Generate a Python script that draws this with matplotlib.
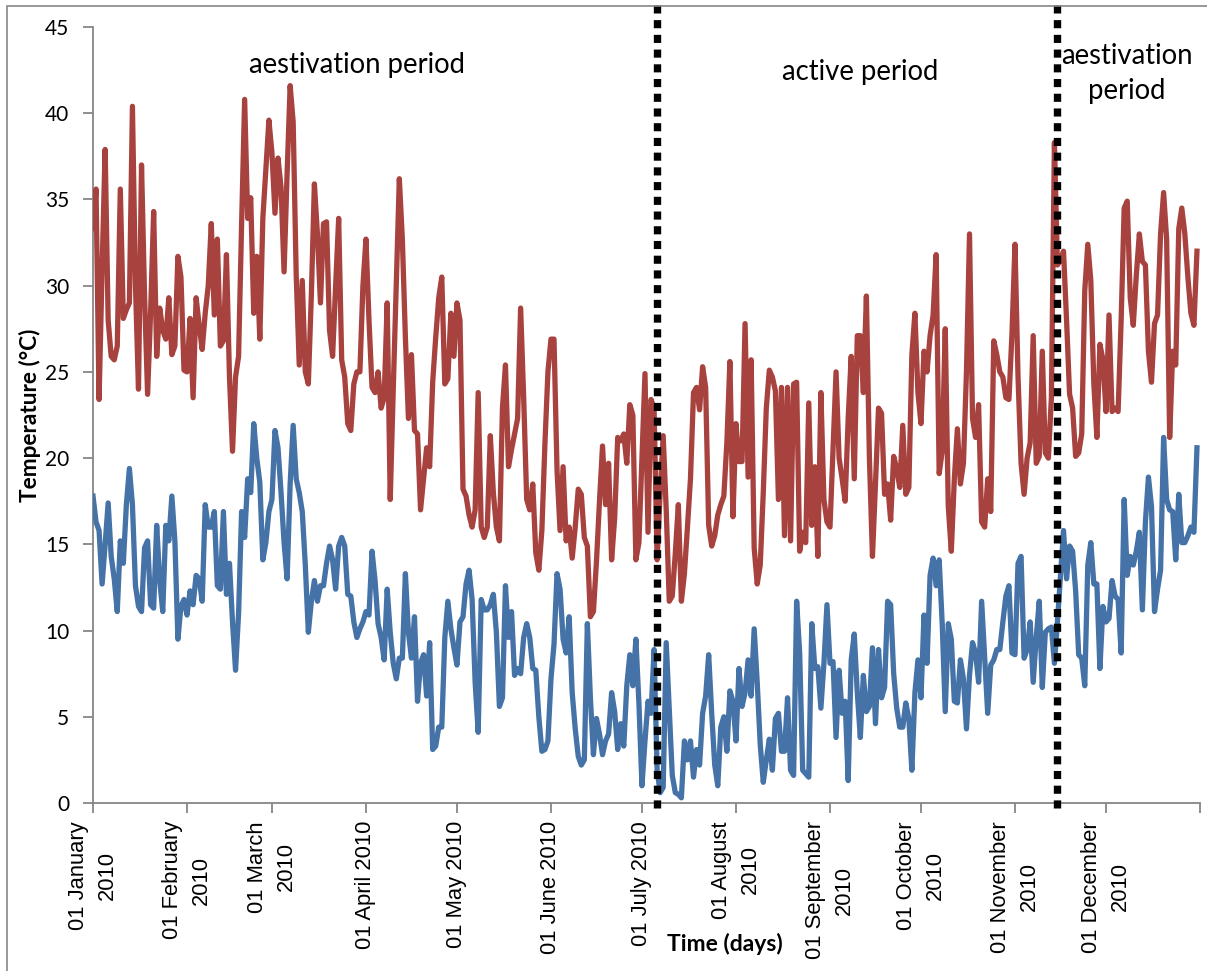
import numpy as np
import pandas as pd
import matplotlib
matplotlib.use("Agg")
import matplotlib.pyplot as plt
from matplotlib.patches import Rectangle

# daily soil temperature, 2010
red_temp = [
    33.3, 35.6, 23.4, 31.0, 37.9, 28.0, 25.9, 25.7, 26.5, 35.6,
    28.1, 28.6, 29.0, 40.4, 30.0, 24.0, 37.0, 29.4, 23.7, 28.5,
    34.3, 25.9, 28.7, 27.4, 26.9, 29.3, 26.0, 26.5, 31.7, 30.5,
    25.1, 25.0, 28.1, 23.5, 29.3, 27.7, 26.3, 28.4, 30.0, 33.6,
    28.3, 32.7, 26.5, 26.8, 31.8, 24.7, 20.4, 24.7, 25.9, 33.6,
    40.8, 33.9, 35.1, 28.4, 31.7, 26.9, 33.9, 36.8, 39.6, 37.7,
    34.2, 37.4, 35.7, 30.8, 36.5, 41.6, 39.5, 30.6, 25.4, 30.3,
    25.0, 24.3, 29.5, 35.9, 33.0, 29.0, 33.6, 33.7, 27.4, 25.9,
    30.0, 33.9, 25.7, 24.7, 22.0, 21.6, 24.3, 25.0, 25.0, 30.0,
    32.7, 28.0, 24.1, 23.8, 25.0, 22.9, 23.5, 29.0, 17.6, 24.0,
    30.0, 36.2, 32.7, 27.0, 22.3, 26.0, 21.6, 21.4, 17.0, 18.8,
    20.6, 19.5, 24.4, 27.0, 29.3, 30.5, 24.3, 24.6, 28.4, 25.9,
    29.0, 28.0, 18.2, 17.8, 16.7, 16.0, 17.0, 23.8, 16.0, 15.4,
    16.0, 21.3, 18.0, 16.0, 15.2, 22.9, 25.4, 19.5, 20.5, 21.4,
    22.3, 28.7, 23.5, 17.6, 17.0, 18.5, 14.5, 13.5, 15.8, 20.8,
    25.0, 26.9, 26.9, 19.3, 15.8, 19.5, 15.2, 16.0, 14.2, 16.0,
    18.2, 17.9, 15.4, 14.9, 10.8, 11.1, 14.0, 17.5, 20.7, 17.3,
    19.7, 14.1, 16.5, 21.2, 21.0, 21.4, 19.7, 23.1, 22.5, 14.1,
    15.1, 20.0, 24.9, 15.7, 23.4, 22.9, 14.1, 18.0, 21.3, 17.0,
    11.7, 12.0, 14.5, 17.3, 11.7, 13.3, 16.0, 18.8, 23.8, 24.1,
    22.8, 25.3, 24.1, 16.1, 14.9, 15.5, 16.7, 17.3, 17.8, 20.9,
    25.6, 16.6, 22.0, 19.8, 19.8, 27.8, 18.9, 25.7, 14.8, 12.7,
    13.8, 18.0, 22.9, 25.1, 24.7, 23.9, 17.6, 24.1, 15.5, 24.1,
    15.2, 24.3, 24.4, 14.6, 15.7, 15.1, 23.2, 16.1, 19.5, 14.3,
    23.8, 17.6, 16.3, 16.0, 20.5, 25.0, 20.0, 18.8, 17.5, 22.3,
    25.9, 18.8, 27.1, 27.1, 23.8, 29.4, 20.0, 14.3, 18.5, 22.9,
    22.6, 17.9, 18.5, 16.4, 20.1, 19.4, 18.3, 21.9, 17.9, 18.3,
    26.0, 28.4, 23.8, 22.0, 26.2, 25.0, 27.1, 28.3, 31.8, 19.1,
    20.4, 27.5, 17.2, 14.6, 18.8, 21.7, 18.5, 19.7, 25.0, 33.0,
    22.3, 21.2, 23.1, 16.3, 16.0, 18.8, 16.9, 26.8, 26.0, 25.0,
    24.7, 23.5, 23.4, 27.2, 32.4, 24.7, 19.7, 17.9, 20.0, 20.9,
    27.1, 19.7, 20.1, 26.2, 20.3, 20.0, 23.5, 38.3, 31.2, 31.5,
    32.0, 28.0, 23.7, 22.9, 20.1, 20.3, 21.4, 29.7, 32.4, 30.3,
    24.3, 21.2, 26.6, 25.7, 22.7, 28.3, 22.7, 22.9, 22.7, 28.0,
    34.5, 34.9, 29.3, 27.7, 30.6, 33.0, 31.4, 31.2, 26.2, 24.4,
    27.8, 28.3, 33.0, 35.4, 32.7, 21.2, 26.2, 25.4, 33.3, 34.5,
    33.0, 30.5, 28.4, 27.7, 32.0,
]

blue_temp = [
    17.8, 16.3, 15.8, 12.7, 15.0, 17.4, 14.3, 13.0, 11.1, 15.2,
    13.9, 17.3, 19.4, 17.3, 12.6, 11.4, 11.1, 14.8, 15.2, 11.5,
    11.3, 16.1, 12.9, 11.1, 16.1, 15.2, 17.8, 15.2, 9.5, 11.4,
    11.8, 10.9, 12.3, 11.5, 13.2, 13.0, 11.7, 17.3, 16.0, 16.0,
    16.9, 12.6, 12.4, 16.9, 12.1, 13.9, 10.5, 7.7, 11.0, 16.9,
    15.4, 18.8, 18.0, 22.0, 20.0, 18.6, 14.1, 15.1, 16.9, 17.6,
    21.6, 20.6, 18.0, 15.1, 13.0, 18.5, 21.9, 18.8, 18.0, 16.9,
    13.8, 9.9, 11.7, 12.9, 11.7, 12.6, 12.6, 13.9, 14.9, 14.1,
    12.4, 14.9, 15.4, 14.9, 12.1, 12.0, 10.5, 9.6, 10.1, 10.5,
    11.1, 10.9, 14.6, 12.9, 10.4, 9.6, 8.3, 12.4, 9.9, 8.1,
    7.2, 8.4, 8.4, 13.3, 9.9, 8.4, 10.8, 5.9, 8.1, 8.6,
    6.2, 9.3, 3.1, 3.3, 4.4, 4.4, 9.6, 11.7, 10.1, 9.0,
    8.0, 10.5, 10.8, 12.7, 13.5, 11.8, 7.0, 4.1, 11.8, 11.2,
    11.2, 11.5, 12.1, 9.9, 5.6, 6.1, 12.6, 9.6, 11.1, 7.4,
    7.8, 7.5, 9.6, 10.4, 9.6, 7.8, 7.7, 5.0, 3.0, 3.1,
    3.6, 7.2, 9.2, 13.3, 12.4, 9.5, 8.7, 10.8, 6.4, 4.3,
    2.7, 2.2, 2.5, 10.4, 6.1, 2.8, 4.9, 4.0, 2.8, 3.6,
    4.0, 6.4, 5.3, 3.1, 4.6, 3.3, 6.8, 8.6, 6.8, 9.5,
    5.8, 1.0, 3.6, 5.9, 5.2, 8.9, 1.9, 0.6, 0.9, 9.3,
    5.5, 1.6, 0.6, 0.5, 0.3, 3.6, 2.5, 3.6, 1.5, 3.1,
    2.2, 5.2, 6.2, 8.6, 5.2, 2.2, 1.0, 4.4, 5.0, 3.0,
    6.5, 5.9, 3.6, 7.8, 5.6, 6.4, 8.3, 6.2, 10.1, 7.0,
    3.4, 1.2, 2.5, 3.7, 1.9, 4.9, 5.2, 3.0, 3.0, 6.1,
    1.9, 1.6, 11.7, 8.7, 1.9, 1.7, 1.5, 10.4, 7.8, 7.9,
    5.5, 8.1, 11.5, 8.1, 8.2, 3.8, 7.7, 5.2, 5.9, 1.3,
    8.3, 9.8, 6.4, 3.8, 7.4, 5.3, 5.6, 9.0, 4.6, 8.9,
    6.1, 6.7, 11.7, 11.5, 7.5, 5.5, 4.4, 4.4, 5.8, 4.9,
    1.9, 6.4, 8.3, 6.1, 10.9, 8.1, 13.2, 14.2, 12.6, 14.1,
    10.4, 5.3, 10.4, 9.5, 5.9, 5.8, 8.3, 7.2, 4.3, 7.4,
    9.3, 8.7, 7.0, 11.7, 8.4, 5.2, 8.0, 8.3, 8.9, 8.9,
    10.5, 12.0, 12.6, 8.7, 8.6, 13.9, 14.3, 8.4, 8.9, 10.5,
    7.0, 9.6, 11.7, 6.7, 9.9, 10.1, 10.2, 8.1, 10.5, 13.2,
    15.8, 13.0, 14.9, 14.6, 12.3, 8.6, 8.4, 6.8, 13.8, 15.1,
    12.7, 12.7, 7.8, 11.4, 10.5, 10.7, 12.9, 12.0, 11.8, 8.7,
    17.6, 13.2, 14.3, 13.8, 14.6, 15.7, 11.2, 16.3, 18.9, 17.2,
    11.1, 12.4, 13.5, 21.2, 17.6, 17.0, 16.9, 14.1, 17.9, 15.1,
    15.1, 15.5, 16.0, 15.7, 20.6,
]

days = pd.date_range("2010-01-01", periods=len(red_temp), freq="D")

tick_dates = pd.date_range("2010-01-01", "2011-01-01", freq="MS")
tick_labels = ["01 January\n2010", "01 February\n2010", "01 March\n2010",
               "01 April 2010", "01 May 2010", "01 June 2010", "01 July 2010",
               "01 August\n2010", "01 September\n2010", "01 October\n2010",
               "01 November\n2010", "01 December\n2010", ""]

period_bounds = [pd.Timestamp("2010-07-06"), pd.Timestamp("2010-11-14 20:00")]
period_names = ["aestivation period", "active period", "aestivation\nperiod"]
period_centers = [pd.Timestamp("2010-03-29"), pd.Timestamp("2010-09-11"),
                  pd.Timestamp("2010-12-08")]
period_y = [42.8, 42.4, 42.3]

RED = "#A8423F"
BLUE = "#4572A7"
AX_GREY = "#868686"

fig = plt.figure(figsize=(12.07, 9.71), dpi=100)
ax = fig.add_axes([93 / 1207, 1 - 803 / 971, (1200 - 93) / 1207, (803 - 27) / 971])

ax.plot(days, red_temp, color=RED, lw=3.8, solid_joinstyle="round", zorder=3)
ax.plot(days, blue_temp, color=BLUE, lw=3.8, solid_joinstyle="round", zorder=3)

for b in period_bounds:
    ax.plot([b, b], [-0.3, 46.3], color="black", lw=5.3,
            linestyle=(0, (1.1, 0.9)), dash_capstyle="butt",
            clip_on=False, zorder=4)

for name, cx, cy in zip(period_names, period_centers, period_y):
    ax.text(cx, cy, name, ha="center", va="center", fontsize=19.8,
            family="Lato", linespacing=1.4)

ax.set_xlim(pd.Timestamp("2010-01-01"), pd.Timestamp("2011-01-01"))
ax.set_ylim(0, 45)
ax.set_yticks(np.arange(0, 46, 5))
ax.set_xticks(tick_dates)
ax.set_xticklabels(tick_labels, rotation=90, ha="center", va="top",
                   multialignment="center", fontsize=15.8, linespacing=1.45,
                   family="Liberation Sans")
for lab in ax.get_yticklabels():
    lab.set_family("Lato")
    lab.set_fontsize(15)

for side in ["top", "right"]:
    ax.spines[side].set_visible(False)
for side in ["left", "bottom"]:
    ax.spines[side].set_color(AX_GREY)
    ax.spines[side].set_linewidth(1.3)
ax.tick_params(axis="both", direction="out", length=7, width=1.3,
               color=AX_GREY, pad=6)
ax.tick_params(axis="y", pad=10)

ax.set_ylabel("Temperature (°C)", fontsize=16.3, fontweight="bold",
              family="Lato", va="center")
ax.yaxis.set_label_coords((30 - 93) / 1107, 0.5)
fig.text(725 / 1207, 1 - 944 / 971, "Time (days)", ha="center", va="center",
         fontsize=16.5, fontweight="bold", family="Lato")

# chart-area border
fig.add_artist(Rectangle((7 / 1207, -0.05), 1.1, 0.05 + (971 - 6.5) / 971,
                         transform=fig.transFigure, fill=False,
                         edgecolor=AX_GREY, lw=1.2))

fig.savefig("out.png", dpi=100)
